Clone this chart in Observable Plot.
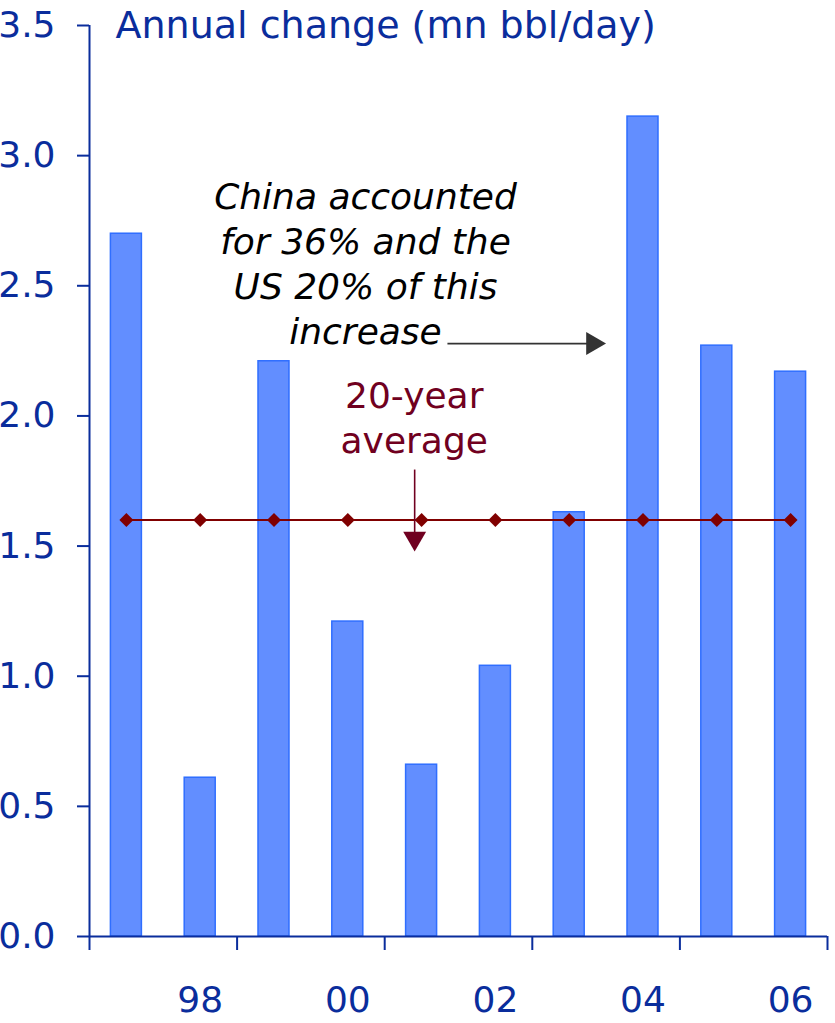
<!DOCTYPE html>
<html><head><meta charset="utf-8">
<script src="https://cdn.jsdelivr.net/npm/d3@7"></script>
<script src="https://cdn.jsdelivr.net/npm/@observablehq/plot@0.6"></script>
<style>body{margin:0;background:#fff}</style>
</head><body><div id="chart"></div>
<script>
// ---- data ----
const years = [1997, 1998, 1999, 2000, 2001, 2002, 2003, 2004, 2005, 2006];
const values = [2.70, 0.61, 2.21, 1.21, 0.66, 1.04, 1.63, 3.15, 2.27, 2.17];
const average = 1.6;
const yTicks = [0, 0.5, 1.0, 1.5, 2.0, 2.5, 3.0, 3.5];
const xLabelYears = [1998, 2000, 2002, 2004, 2006];
const xLabels = ["98", "00", "02", "04", "06"];
const xBoundaries = [1996.5, 1998.5, 2000.5, 2002.5, 2004.5, 2006.5];
const title = "Annual change (mn bbl/day)";
const noteChina = "China accounted\nfor 36% and the\nUS 20% of this\nincrease";
const noteAvg = "20-year\naverage";

// annotation anchors (data units)
const chinaNote = [{x: 2000.24, y: 2.59, text: noteChina}];
const chinaArrow = [{x1: 2001.35, x2: 2003.32, y: 2.278}];
const avgNote = [{x: 2000.90, y: 1.998, text: noteAvg}];
const avgArrow = [{x: 2000.906, y1: 1.794, y2: 1.53}];

const bars = years.map((year, i) => ({year, value: values[i]}));
const avgData = years.map(year => ({year, value: average}));

const blue = "#0a2d9c";
const barFill = "#628eff";
const barStroke = "#2f6eff";
const maroon = "#800000";
const maroonDark = "#700020";
const gray = "#333333";

const chart = Plot.plot({
  width: 835,
  height: 1023,
  marginLeft: 89,
  marginRight: 8,
  marginTop: 25,
  marginBottom: 87,
  style: {fontFamily: "DejaVu Sans", fontSize: "36px", background: "white", overflow: "visible"},
  x: {type: "linear", domain: [1996.5, 2006.5]},
  y: {domain: [0, 3.5]},
  marks: [
    Plot.rectY(bars, {x1: d => d.year - 0.21, x2: d => d.year + 0.21, y: "value", fill: barFill, stroke: barStroke, strokeWidth: 1.5}),
    Plot.ruleY([0], {stroke: blue, strokeWidth: 2}),
    Plot.ruleX([1996.5], {y1: 0, y2: 3.5, stroke: blue, strokeWidth: 2}),
    Plot.axisY({ticks: yTicks, tickFormat: d3.format(".1f"), tickSize: 12, tickPadding: 22, color: blue, strokeWidth: 2, fontSize: 36, label: null}),
    Plot.axisX({ticks: xBoundaries, tickFormat: () => "", tickSize: 14, color: blue, strokeWidth: 2, label: null}),
    Plot.axisX({ticks: xLabelYears, tickFormat: d => xLabels[xLabelYears.indexOf(d)], tickSize: 0, tickPadding: 50, color: blue, fontSize: 36, label: null}),
    Plot.line(avgData, {x: "year", y: "value", stroke: maroon, strokeWidth: 2}),
    Plot.dot(avgData, {x: "year", y: "value", symbol: "diamond2", r: 6.3, fill: maroon, stroke: "none"}),
    Plot.text([{t: title}], {x: () => 1996.5, y: () => 3.5, text: "t", dx: 26, textAnchor: "start", lineAnchor: "middle", fontSize: 38, fill: blue}),
    Plot.text(chinaNote, {x: "x", y: "y", text: "text", fontSize: 36, fontStyle: "italic", lineHeight: 1.25, fill: "black", lineAnchor: "middle"}),
    Plot.link(chinaArrow, {x1: "x1", x2: "x2", y1: "y", y2: "y", stroke: gray, strokeWidth: 1.8}),
    Plot.dot(chinaArrow, {x: "x2", y: "y", symbol: "triangle", r: 8.5, fill: gray, stroke: "none", rotate: 90}),
    Plot.text(avgNote, {x: "x", y: "y", text: "text", fontSize: 36, lineHeight: 1.25, fill: maroonDark, lineAnchor: "middle"}),
    Plot.link(avgArrow, {x1: "x", x2: "x", y1: "y1", y2: "y2", stroke: maroonDark, strokeWidth: 1.6}),
    Plot.dot(avgArrow, {x: "x", y: "y2", symbol: "triangle", r: 8.5, fill: maroonDark, stroke: "none", rotate: 180})
  ]
});
document.getElementById("chart").appendChild(chart);
</script>
</body></html>
